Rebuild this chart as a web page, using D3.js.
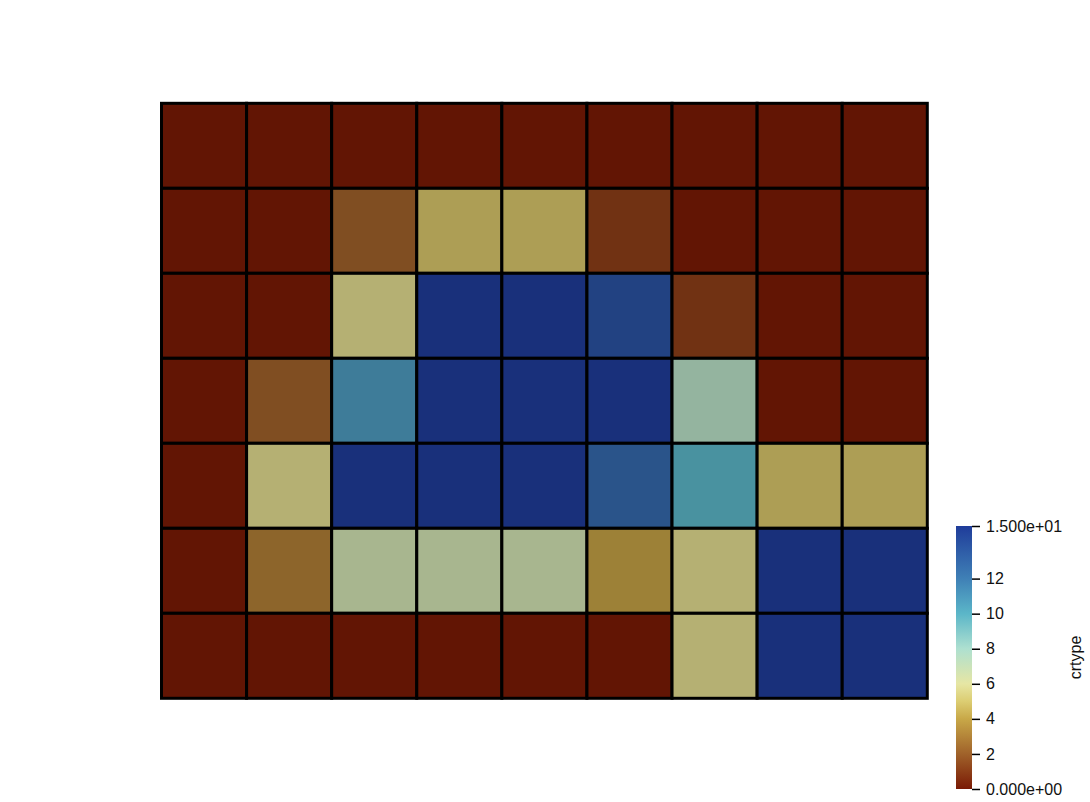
<!DOCTYPE html>
<html>
<head>
<meta charset="utf-8">
<script src="https://cdn.jsdelivr.net/npm/d3@7"></script>
<style>
  body { margin: 0; background: #fff; }
  svg { display: block; font-family: 'Liberation Sans', Arial, sans-serif; }
</style>
</head>
<body>
<script>
// crtype values per cell, rows from top to bottom, 9 columns each
const row0 = [0, 0, 0, 0, 0, 0, 0, 0, 0]
const row1 = [0, 0, 2, 4.8, 4.8, 1, 0, 0, 0]
const row2 = [0, 0, 5.6, 15, 15, 14, 1, 0, 0]
const row3 = [0, 2, 11, 15, 15, 15, 7.6, 0, 0]
const row4 = [0, 5.6, 15, 15, 15, 13, 10, 4.8, 4.8]
const row5 = [0, 2.8, 6.7, 6.7, 6.7, 3.8, 5.6, 15, 15]
const row6 = [0, 0, 0, 0, 0, 0, 5.6, 15, 15]
const rows = [row0, row1, row2, row3, row4, row5, row6]

// colour map stops (value, colour)
const mapValues = [0, 2, 4, 5, 6, 8, 10, 12, 15]
const mapColors = ['#7a1a05', '#a0622a', '#c8a848', '#dccd72', '#e6e6a4', '#aee0d0', '#5bb6c8', '#3f80b6', '#1f3c9a']

const tickValues = [0, 2, 4, 6, 8, 10, 12, 15]
const tickLabels = ['0.000e+00', '2', '4', '6', '8', '10', '12', '1.500e+01']
const barTitle = 'crtype'

const width = 1090, height = 802
const shade = 0.8   // surface lighting darkens the cells

const svg = d3.select('body').append('svg')
    .attr('width', width)
    .attr('height', height)

const color = d3.scaleLinear().domain(mapValues).range(mapColors).interpolate(d3.interpolateRgb)

function cellColor(v) {
    const c = d3.rgb(color(v))
    return d3.rgb(c.r * shade, c.g * shade, c.b * shade).formatHex()
}

const x = d3.scaleLinear().domain([0, 9]).range([161.5, 927.3])
const y = d3.scaleLinear().domain([0, 7]).range([103.3, 698.3])

const cells = []
rows.forEach((r, i) => r.forEach((v, j) => cells.push({ row: i, col: j, value: v })))

svg.append('g')
    .selectAll('rect')
    .data(cells)
    .enter()
    .append('rect')
    .attr('x', d => x(d.col))
    .attr('y', d => y(d.row))
    .attr('width', d => x(d.col + 1) - x(d.col))
    .attr('height', d => y(d.row + 1) - y(d.row))
    .style('fill', d => cellColor(d.value))
    .style('stroke', '#000')
    .style('stroke-width', 3)

// colour bar
const barX = 956, barW = 16
const barScale = d3.scaleLinear().domain([0, 15]).range([789, 526])

const grad = svg.append('defs').append('linearGradient')
    .attr('id', 'bar-grad')
    .attr('x1', 0).attr('y1', 1).attr('x2', 0).attr('y2', 0)
grad.selectAll('stop')
    .data(mapValues)
    .enter()
    .append('stop')
    .attr('offset', d => d / 15)
    .attr('stop-color', (d, i) => mapColors[i])

svg.append('rect')
    .attr('x', barX)
    .attr('y', barScale(15))
    .attr('width', barW)
    .attr('height', barScale(0) - barScale(15))
    .style('fill', 'url(#bar-grad)')

const axis = d3.axisRight(barScale)
    .tickValues(tickValues)
    .tickFormat((d, i) => tickLabels[i])
    .tickSize(8)
    .tickPadding(6)

const axisG = svg.append('g')
    .attr('transform', 'translate(' + (barX + barW) + ',0)')
    .call(axis)
axisG.select('.domain').remove()
axisG.selectAll('line').style('stroke', '#000').style('stroke-width', 1.5)
axisG.selectAll('text')
    .style('font-size', '16px')
    .style('fill', '#111')
    .style('font-family', "'Liberation Sans', Arial, sans-serif")

svg.append('text')
    .attr('transform', 'translate(1081,' + ((barScale(0) + barScale(15)) / 2) + ') rotate(-90)')
    .attr('text-anchor', 'middle')
    .style('font-size', '16px')
    .style('fill', '#111')
    .text(barTitle)
</script>
</body>
</html>
